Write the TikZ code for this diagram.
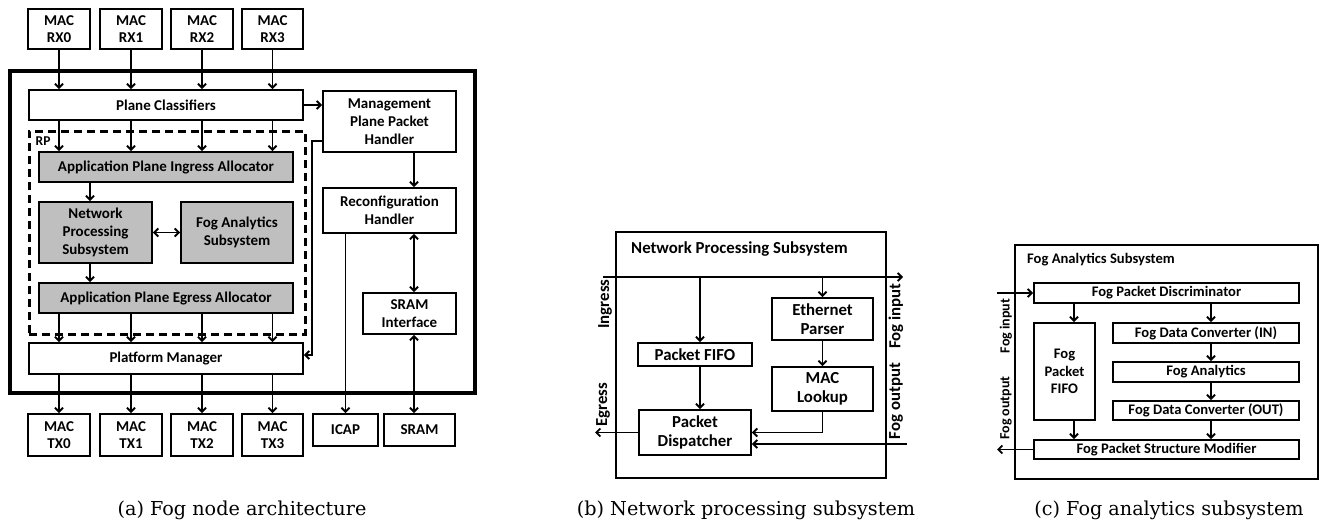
\documentclass[tikz,border=0pt]{standalone}
\usepackage{fontspec}
\setmainfont{DejaVu Serif}
\newfontfamily\boxfont{Carlito}
\usetikzlibrary{arrows.meta}

\definecolor{boxgray}{RGB}{191,191,191}

% place a rectangular node from its left/right/top/bottom edges
\newcommand{\placebox}[7]{%
  \node[#2, minimum width={(#4-#3)*1pt}, minimum height={(#6-#5)*1pt}]
    (#1) at ({(#3+#4)/2},{(#5+#6)/2}) {#7};}

\newcommand{\afont}{\boxfont\bfseries\fontsize{15}{17.7}\selectfont}
\newcommand{\bfnt}{\boxfont\bfseries\fontsize{16.8}{19.3}\selectfont}
\newcommand{\cfnt}{\boxfont\bfseries\fontsize{14.6}{17.5}\selectfont}

\tikzset{
  >={Straight Barb[length=4pt,width=8pt]},
  blk/.style={draw, line width=1.9pt, fill=white, align=center, inner sep=0pt, font=\afont},
  gblk/.style={blk, fill=boxgray},
  bblk/.style={blk, font=\bfnt},
  sblk/.style={blk, font=\cfnt},
  coreframe/.style={draw, line width=4.5pt, inner sep=0pt},
  rpframe/.style={draw, line width=3pt, dash pattern=on 8pt off 5pt, inner sep=0pt},
  subframe/.style={draw, line width=1.9pt, inner sep=0pt},
  conn/.style={line width=1.9pt, ->},
  dconn/.style={line width=1.9pt, <->},
  ttl/.style={inner sep=0pt, anchor=west, font=\bfnt},
  sttl/.style={inner sep=0pt, anchor=west, font=\cfnt},
  sidelbl/.style={inner sep=0pt, rotate=90, font=\bfnt},
  ssidelbl/.style={inner sep=0pt, rotate=90, font=\boxfont\bfseries\fontsize{14}{16}\selectfont},
  captxt/.style={inner sep=0pt, font=\fontsize{19.2}{21}\selectfont},
}

\begin{document}
\begin{tikzpicture}[x=1pt, y=-1pt]
\useasboundingbox (0,0) rectangle (1321,524);

% ---------------- (a) fog node architecture ----------------
\placebox{core}{coreframe}{10}{475}{71}{393}{}
\placebox{rp}{rpframe}{29}{305}{131}{334}{}
\node[inner sep=0pt, anchor=west, font=\boxfont\bfseries\fontsize{13.5}{15}\selectfont] (rplbl) at (35.5,141) {RP};

\foreach \i/\a/\b in {0/28/90, 1/100/162, 2/171/233, 3/242/303} {
  \placebox{rx\i}{blk}{\a}{\b}{9}{49}{MAC\\RX\i}
  \placebox{tx\i}{blk}{\a}{\b}{414}{456}{MAC\\TX\i}
}

\placebox{pc}{blk}{29}{303}{90}{120}{Plane Classifiers}
\placebox{apia}{gblk}{39}{293}{152}{182}{Application Plane Ingress Allocator}
\placebox{nps}{gblk}{39}{152}{202}{263}{Network\\Processing\\Subsystem}
\placebox{fas}{gblk}{181}{293}{202}{263}{Fog Analytics\\Subsystem}
\placebox{apea}{gblk}{39}{293}{283}{313}{Application Plane Egress Allocator}
\placebox{pm}{blk}{29}{303}{343}{374}{Platform Manager}
\placebox{mpph}{blk}{323}{456}{91}{152}{Management\\Plane Packet\\Handler}
\placebox{rh}{blk}{323}{456}{188}{233}{Reconfiguration\\Handler}
\placebox{sri}{blk}{363}{456}{293}{334}{SRAM\\Interface}
\placebox{icap}{blk}{313}{378}{414}{446}{ICAP}
\placebox{sram}{blk}{384}{455}{414}{446}{SRAM}

\coordinate (colA) at (90,0);
\coordinate (colM) at (414,0);

\foreach \i in {0,...,3} {
  \draw[conn] (rx\i.south) -- (rx\i.south |- pc.north);
  \draw[conn] (pc.south -| rx\i) -- (apia.north -| rx\i);
  \draw[conn] (apea.south -| rx\i) -- (pm.north -| rx\i);
  \draw[conn] (pm.south -| rx\i) -- (tx\i.north);
}
\draw[conn] (apia.south -| colA) -- (nps.north -| colA);
\draw[dconn] (nps.east) -- (fas.west);
\draw[conn] (nps.south -| colA) -- (apea.north -| colA);
\draw[conn] (pc.east) -- (pc.east -| mpph.west);
\draw[conn] ([yshift=-19.5pt]mpph.west) -- ++(-10,0) |- ([yshift=3.5pt]pm.east);
\draw[conn] (mpph.south -| colM) -- (rh.north -| colM);
\draw[dconn] (rh.south -| colM) -- (sri.north -| colM);
\draw[dconn] (sri.south -| colM) -- (sram.north -| colM);
\draw[conn] (rh.south -| icap) -- (icap.north);

% ---------------- (b) network processing subsystem ----------------
\placebox{npsbox}{subframe}{616}{886}{232}{478}{}
\node[ttl] (npstitle) at (631,249) {Network Processing Subsystem};
\placebox{pfifo}{bblk}{638}{752}{343}{366}{Packet FIFO}
\placebox{ep}{bblk}{772}{873}{298}{340}{Ethernet\\Parser}
\placebox{ml}{bblk}{772}{873}{367}{411}{MAC\\Lookup}
\placebox{pd}{bblk}{639}{751}{410}{455}{Packet\\Dispatcher}

\coordinate (colP) at (700,0);
\coordinate (ingin) at (603,277);
\coordinate (fogin) at (903,277);
\coordinate (fogout) at (907,444);
\coordinate (egout) at (595,432.5);

\draw[conn] (ingin) -- (fogin);
\draw[conn] (ingin -| colP) -- (pfifo.north -| colP);
\draw[conn] (ingin -| ep) -- (ep.north);
\draw[conn] (ep.south) -- (ml.north);
\draw[conn] (pfifo.south -| colP) -- (pd.north -| colP);
\draw[conn] (ml.south) |- (pd.east);
\draw[conn] (fogout) -- (fogout -| pd.east);
\draw[conn] (pd.west) -- (pd.west -| egout);

\node[sidelbl] (lbing) at (605,304) {Ingress};
\node[sidelbl] (lbeg) at (603,405) {Egress};
\node[sidelbl] (lbfin) at (896,316) {Fog input};
\node[sidelbl] (lbfout) at (896,401) {Fog output};

% ---------------- (c) fog analytics subsystem ----------------
\placebox{fasbox}{subframe}{1015}{1318}{245}{479}{}
\node[sttl] (fastitle) at (1027,260) {Fog Analytics Subsystem};
\placebox{fpd}{sblk}{1034}{1299}{283}{303}{Fog Packet Discriminator}
\placebox{fpf}{sblk}{1034}{1095}{323}{420}{Fog\\Packet\\FIFO}
\placebox{fdcin}{sblk}{1113}{1299}{323}{343}{Fog Data Converter (IN)}
\placebox{fa}{sblk}{1113}{1299}{362}{382}{Fog Analytics}
\placebox{fdcout}{sblk}{1113}{1299}{401}{420}{Fog Data Converter (OUT)}
\placebox{fpsm}{sblk}{1034}{1299}{440}{459}{Fog Packet Structure Modifier}

\coordinate (colF) at (1074,0);
\coordinate (colD) at (1211,0);
\coordinate (fin) at (997,293);
\coordinate (fout) at (997,449.5);

\draw[conn] (fin) -- (fpd.west);
\draw[conn] (fpsm.west) -- (fpsm.west -| fout);
\draw[conn] (fpd.south -| colF) -- (fpf.north -| colF);
\draw[conn] (fpf.south -| colF) -- (fpsm.north -| colF);
\draw[conn] (fpd.south -| colD) -- (fdcin.north -| colD);
\draw[conn] (fdcin.south -| colD) -- (fa.north -| colD);
\draw[conn] (fa.south -| colD) -- (fdcout.north -| colD);
\draw[conn] (fdcout.south -| colD) -- (fpsm.north -| colD);

\node[ssidelbl] (lbcin) at (1006,326) {Fog input};
\node[ssidelbl] (lbcout) at (1006,408) {Fog output};

% ---------------- captions ----------------
\node[captxt] (capa) at (242,510) {(a) Fog node architecture};
\node[captxt] (capb) at (746,510) {(b) Network processing subsystem};
\node[captxt] (capc) at (1169,510) {(c) Fog analytics subsystem};
\end{tikzpicture}
\end{document}
